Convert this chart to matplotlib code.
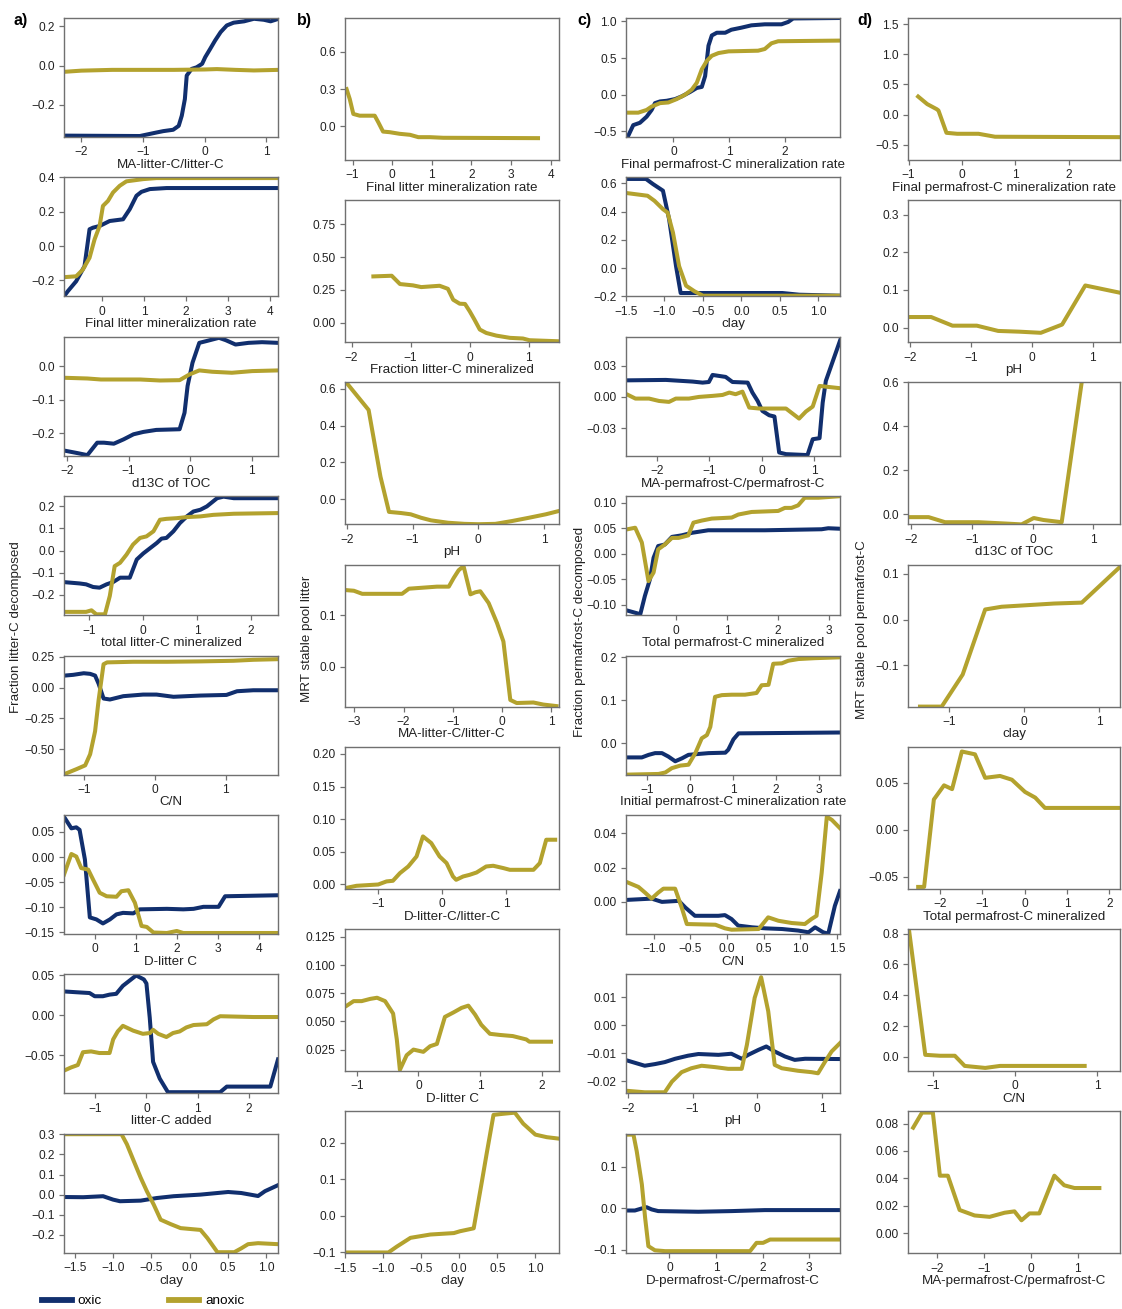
import numpy as np
import matplotlib
matplotlib.use("Agg")
import matplotlib.pyplot as plt
from matplotlib.lines import Line2D

plt.rcParams['font.family'] = ['Liberation Sans', 'DejaVu Sans']

OXIC = '#112f6e'
ANOXIC = '#b3a22e'

# ---- column a: Fraction litter-C decomposed ----
a1_oxic_x = [-2.28, -1.05, -0.78, -0.67, -0.51, -0.42, -0.37, -0.32, -0.29, -0.21, -0.13, -0.04, 0.01, 0.09, 0.17, 0.26, 0.36, 0.47, 0.64, 0.80, 0.96, 1.07, 1.20]
a1_oxic_y = [-0.358, -0.36, -0.342, -0.335, -0.328, -0.308, -0.256, -0.171, -0.051, -0.017, -0.009, 0.009, 0.043, 0.085, 0.128, 0.171, 0.205, 0.219, 0.226, 0.239, 0.234, 0.226, 0.239]
a1_anox_x = [-2.28, -2.0, -1.5, -1.0, -0.5, 0.0, 0.2, 0.5, 0.8, 1.2]
a1_anox_y = [-0.032, -0.026, -0.022, -0.022, -0.022, -0.02, -0.018, -0.022, -0.025, -0.022]

a2_oxic_x = [-0.91, -0.82, -0.62, -0.42, -0.30, -0.22, -0.06, 0.18, 0.50, 0.66, 0.82, 0.94, 1.14, 1.54, 4.2]
a2_oxic_y = [-0.293, -0.263, -0.205, -0.117, 0.098, 0.107, 0.117, 0.146, 0.156, 0.215, 0.293, 0.316, 0.332, 0.338, 0.338]
a2_anox_x = [-0.91, -0.62, -0.46, -0.30, -0.18, -0.06, 0.02, 0.14, 0.26, 0.42, 0.58, 0.98, 1.30, 4.2]
a2_anox_y = [-0.181, -0.176, -0.137, -0.068, 0.039, 0.117, 0.234, 0.263, 0.312, 0.351, 0.377, 0.39, 0.396, 0.396]

a3_oxic_x = [-2.03, -1.83, -1.67, -1.51, -1.40, -1.24, -1.08, -0.92, -0.76, -0.55, -0.17, -0.09, -0.04, 0.04, 0.15, 0.26, 0.47, 0.58, 0.74, 0.95, 1.17, 1.43]
a3_oxic_y = [-0.252, -0.259, -0.265, -0.228, -0.228, -0.231, -0.218, -0.203, -0.196, -0.190, -0.188, -0.139, -0.059, 0.010, 0.069, 0.074, 0.084, 0.077, 0.064, 0.069, 0.071, 0.069]
a3_anox_x = [-2.03, -1.67, -1.45, -0.81, -0.49, -0.17, -0.01, 0.15, 0.36, 0.68, 1.01, 1.43]
a3_anox_y = [-0.035, -0.037, -0.040, -0.040, -0.043, -0.042, -0.025, -0.013, -0.017, -0.020, -0.015, -0.013]

a4_oxic_x = [-1.47, -1.18, -1.06, -0.93, -0.81, -0.68, -0.56, -0.43, -0.25, -0.12, 0.0, 0.09, 0.25, 0.34, 0.43, 0.56, 0.68, 0.81, 0.93, 1.06, 1.18, 1.37, 1.49, 1.68, 2.5]
a4_oxic_y = [-0.142, -0.148, -0.152, -0.164, -0.167, -0.152, -0.142, -0.122, -0.122, -0.040, -0.013, 0.004, 0.034, 0.054, 0.057, 0.087, 0.124, 0.154, 0.176, 0.184, 0.199, 0.236, 0.243, 0.236, 0.236]
a4_anox_x = [-1.47, -1.06, -0.96, -0.87, -0.71, -0.62, -0.53, -0.43, -0.31, -0.19, -0.06, 0.06, 0.19, 0.31, 0.43, 0.62, 0.81, 1.06, 1.30, 1.68, 2.5]
a4_anox_y = [-0.276, -0.276, -0.269, -0.287, -0.287, -0.204, -0.070, -0.055, -0.018, 0.027, 0.057, 0.064, 0.087, 0.139, 0.143, 0.146, 0.151, 0.154, 0.161, 0.166, 0.169]

a5_oxic_x = [-1.28, -1.16, -1.01, -0.92, -0.85, -0.80, -0.73, -0.64, -0.45, -0.17, 0.02, 0.26, 0.64, 1.01, 1.16, 1.39, 1.74]
a5_oxic_y = [0.098, 0.104, 0.117, 0.112, 0.098, 0.032, -0.088, -0.096, -0.069, -0.056, -0.056, -0.074, -0.064, -0.059, -0.029, -0.021, -0.021]
a5_anox_x = [-1.28, -1.11, -0.99, -0.92, -0.85, -0.80, -0.73, -0.68, -0.31, 0.17, 0.64, 1.11, 1.39, 1.74]
a5_anox_y = [-0.70, -0.66, -0.63, -0.54, -0.354, -0.101, 0.19, 0.205, 0.21, 0.21, 0.213, 0.218, 0.226, 0.231]

a6_oxic_x = [-0.75, -0.57, -0.45, -0.37, -0.24, -0.12, 0.04, 0.20, 0.37, 0.53, 0.69, 0.94, 1.10, 1.76, 2.16, 2.41, 2.65, 3.02, 3.18, 4.47]
a6_oxic_y = [0.080, 0.057, 0.059, 0.054, -0.005, -0.120, -0.124, -0.132, -0.124, -0.114, -0.111, -0.112, -0.104, -0.103, -0.104, -0.103, -0.099, -0.099, -0.078, -0.076]
a6_anox_x = [-0.75, -0.65, -0.57, -0.45, -0.33, -0.16, -0.04, 0.12, 0.29, 0.53, 0.65, 0.82, 0.98, 1.14, 1.27, 1.43, 1.76, 2.0, 2.16, 4.47]
a6_anox_y = [-0.035, -0.012, 0.006, 0.001, -0.022, -0.025, -0.045, -0.071, -0.078, -0.079, -0.068, -0.066, -0.091, -0.137, -0.139, -0.150, -0.151, -0.147, -0.151, -0.151]

a7_oxic_x = [-1.61, -1.37, -1.11, -1.01, -0.85, -0.72, -0.59, -0.46, -0.3, -0.2, -0.05, 0.0, 0.065, 0.13, 0.26, 0.42, 1.44, 1.57, 2.42, 2.57]
a7_oxic_y = [0.030, 0.029, 0.028, 0.024, 0.024, 0.026, 0.027, 0.037, 0.045, 0.05, 0.045, 0.04, -0.003, -0.058, -0.079, -0.096, -0.096, -0.089, -0.089, -0.055]
a7_anox_x = [-1.61, -1.47, -1.34, -1.24, -1.08, -0.92, -0.72, -0.65, -0.56, -0.46, -0.26, -0.07, 0.07, 0.13, 0.23, 0.39, 0.52, 0.65, 0.78, 0.92, 1.18, 1.31, 1.44, 2.09, 2.57]
a7_anox_y = [-0.069, -0.065, -0.062, -0.046, -0.045, -0.047, -0.047, -0.030, -0.020, -0.013, -0.019, -0.023, -0.022, -0.018, -0.023, -0.027, -0.022, -0.020, -0.015, -0.012, -0.011, -0.005, -0.001, -0.002, -0.002]

a8_oxic_x = [-1.64, -1.39, -1.13, -1.0, -0.91, -0.64, -0.43, -0.21, 0.14, 0.50, 0.67, 0.89, 0.98, 1.15]
a8_oxic_y = [-0.012, -0.013, -0.008, -0.025, -0.033, -0.030, -0.017, -0.008, 0.0, 0.013, 0.008, -0.007, 0.017, 0.047]
a8_anox_x = [-1.64, -1.17, -0.89, -0.82, -0.73, -0.64, -0.56, -0.47, -0.38, -0.25, -0.12, 0.14, 0.23, 0.36, 0.58, 0.67, 0.76, 0.89, 1.15]
a8_anox_y = [0.301, 0.301, 0.301, 0.251, 0.167, 0.084, 0.017, -0.050, -0.125, -0.147, -0.167, -0.176, -0.217, -0.287, -0.287, -0.268, -0.247, -0.242, -0.247]

# ---- column b: MRT stable pool litter (anoxic only) ----
b1_anox_x = [-1.15, -1.07, -0.98, -0.82, -0.44, -0.35, -0.23, -0.06, 0.19, 0.45, 0.66, 0.95, 1.29, 3.68]
b1_anox_y = [0.299, 0.219, 0.099, 0.085, 0.085, 0.032, -0.043, -0.048, -0.061, -0.069, -0.088, -0.088, -0.093, -0.096]

b2_anox_x = [-1.63, -1.32, -1.18, -0.96, -0.82, -0.51, -0.37, -0.28, -0.17, -0.08, 0.0, 0.08, 0.17, 0.28, 0.45, 0.68, 0.90, 1.01, 1.51]
b2_anox_y = [0.353, 0.358, 0.295, 0.285, 0.272, 0.282, 0.259, 0.176, 0.146, 0.144, 0.088, 0.025, -0.050, -0.076, -0.096, -0.113, -0.118, -0.131, -0.139]

b3_anox_x = [-2.0, -1.67, -1.59, -1.49, -1.36, -1.18, -1.03, -0.87, -0.72, -0.46, -0.21, 0.0, 0.26, 0.51, 0.77, 1.03, 1.23]
b3_anox_y = [0.63, 0.485, 0.324, 0.123, -0.069, -0.075, -0.082, -0.101, -0.115, -0.128, -0.134, -0.136, -0.134, -0.119, -0.101, -0.082, -0.064]

b4_anox_x = [-3.14, -3.01, -2.84, -2.03, -1.89, -1.32, -1.08, -0.98, -0.88, -0.78, -0.64, -0.54, -0.44, -0.27, -0.10, 0.03, 0.17, 0.30, 0.64, 0.84, 1.11]
b4_anox_y = [0.149, 0.148, 0.142, 0.142, 0.152, 0.156, 0.156, 0.173, 0.188, 0.196, 0.141, 0.145, 0.147, 0.124, 0.085, 0.049, -0.065, -0.071, -0.070, -0.074, -0.077]

b5_anox_x = [-1.52, -1.34, -1.0, -0.87, -0.77, -0.66, -0.53, -0.40, -0.30, -0.17, -0.04, 0.07, 0.17, 0.22, 0.33, 0.43, 0.54, 0.69, 0.80, 0.96, 1.06, 1.43, 1.53, 1.63, 1.77]
b5_anox_y = [-0.0056, -0.002, 0.0, 0.0047, 0.0057, 0.0174, 0.0276, 0.043, 0.0737, 0.0635, 0.043, 0.0328, 0.0123, 0.0072, 0.0123, 0.0148, 0.0184, 0.0276, 0.0287, 0.0251, 0.0225, 0.0225, 0.0328, 0.0686, 0.0686]

b6_anox_x = [-1.16, -1.05, -0.92, -0.78, -0.67, -0.54, -0.41, -0.35, -0.30, -0.19, -0.08, 0.08, 0.19, 0.30, 0.43, 0.57, 0.70, 0.81, 0.92, 1.02, 1.16, 1.32, 1.53, 1.75, 1.80, 2.15]
b6_anox_y = [0.064, 0.068, 0.068, 0.070, 0.071, 0.068, 0.057, 0.034, 0.007, 0.020, 0.025, 0.023, 0.028, 0.030, 0.054, 0.058, 0.062, 0.064, 0.056, 0.047, 0.039, 0.038, 0.037, 0.034, 0.032, 0.032]

b7_anox_x = [-1.49, -0.93, -0.82, -0.64, -0.38, -0.07, 0.01, 0.19, 0.30, 0.36, 0.45, 0.58, 0.73, 0.84, 1.0, 1.15, 1.31]
b7_anox_y = [-0.100, -0.100, -0.084, -0.060, -0.051, -0.047, -0.042, -0.034, 0.097, 0.170, 0.276, 0.279, 0.282, 0.252, 0.222, 0.215, 0.211]

# ---- column c: Fraction permafrost-C decomposed ----
c1_oxic_x = [-0.82, -0.72, -0.60, -0.48, -0.39, -0.33, -0.24, -0.12, 0.03, 0.15, 0.30, 0.42, 0.51, 0.57, 0.63, 0.69, 0.78, 0.93, 1.04, 1.22, 1.40, 1.64, 1.94, 2.06, 2.15, 2.99]
c1_oxic_y = [-0.577, -0.415, -0.383, -0.300, -0.208, -0.115, -0.092, -0.083, -0.060, -0.023, 0.037, 0.092, 0.106, 0.254, 0.669, 0.808, 0.845, 0.845, 0.886, 0.914, 0.946, 0.960, 0.960, 0.992, 1.04, 1.046]
c1_anox_x = [-0.85, -0.63, -0.48, -0.39, -0.24, -0.09, 0.06, 0.21, 0.33, 0.42, 0.51, 0.60, 0.69, 0.81, 0.99, 1.52, 1.64, 1.76, 1.88, 2.99]
c1_anox_y = [-0.245, -0.245, -0.208, -0.162, -0.115, -0.106, -0.060, 0.0, 0.069, 0.162, 0.346, 0.461, 0.531, 0.568, 0.591, 0.600, 0.623, 0.701, 0.729, 0.738]

c2_oxic_x = [-1.49, -1.24, -1.15, -1.02, -0.94, -0.85, -0.79, -0.55, 0.53, 0.75, 1.28]
c2_oxic_y = [0.632, 0.632, 0.596, 0.549, 0.347, 0.014, -0.176, -0.176, -0.176, -0.188, -0.195]
c2_anox_x = [-1.49, -1.22, -1.13, -1.02, -0.96, -0.89, -0.81, -0.72, -0.61, -0.50, 1.28]
c2_anox_y = [0.532, 0.513, 0.477, 0.418, 0.394, 0.252, 0.014, -0.124, -0.164, -0.195, -0.195]

c3_oxic_x = [-2.55, -1.83, -1.32, -1.13, -1.01, -0.94, -0.69, -0.56, -0.27, -0.18, -0.08, 0.01, 0.14, 0.24, 0.33, 0.46, 0.87, 0.97, 1.10, 1.16, 1.22, 1.32, 1.41, 1.51]
c3_oxic_y = [0.016, 0.0164, 0.0148, 0.0138, 0.0144, 0.0212, 0.0193, 0.0144, 0.0138, 0.0042, -0.0039, -0.0135, -0.0177, -0.0189, -0.0536, -0.0552, -0.0561, -0.0408, -0.0398, -0.0055, 0.0154, 0.0298, 0.0427, 0.0571]
c3_anox_x = [-2.55, -2.41, -2.15, -1.96, -1.77, -1.64, -1.39, -1.20, -0.94, -0.75, -0.62, -0.50, -0.37, -0.24, -0.05, 0.46, 0.71, 0.84, 0.97, 1.10, 1.22, 1.51]
c3_anox_y = [0.0019, -0.0016, -0.0016, -0.0039, -0.0048, -0.0016, -0.0016, 0.0, 0.001, 0.0019, 0.0042, 0.0026, 0.0051, -0.0103, -0.0112, -0.0112, -0.0209, -0.0141, -0.0093, 0.0106, 0.0099, 0.0083]

c4_oxic_x = [-0.95, -0.70, -0.61, -0.51, -0.44, -0.35, -0.22, -0.08, 0.11, 0.31, 0.63, 1.74, 2.85, 2.98, 3.21]
c4_oxic_y = [-0.112, -0.119, -0.083, -0.050, -0.008, 0.015, 0.018, 0.033, 0.036, 0.041, 0.046, 0.046, 0.048, 0.050, 0.049]
c4_anox_x = [-0.95, -0.80, -0.67, -0.54, -0.44, -0.35, -0.22, -0.08, 0.05, 0.24, 0.34, 0.50, 0.70, 1.09, 1.22, 1.48, 2.0, 2.13, 2.26, 2.39, 2.52, 2.79, 3.21]
c4_anox_y = [0.048, 0.051, 0.022, -0.054, -0.037, 0.0085, 0.018, 0.031, 0.031, 0.036, 0.061, 0.065, 0.069, 0.071, 0.077, 0.082, 0.084, 0.090, 0.090, 0.095, 0.110, 0.110, 0.113]

c5_oxic_x = [-1.45, -1.13, -0.97, -0.82, -0.66, -0.51, -0.35, -0.19, -0.04, 0.19, 0.43, 0.82, 0.89, 1.01, 1.13, 3.5]
c5_oxic_y = [-0.033, -0.033, -0.027, -0.023, -0.023, -0.031, -0.042, -0.035, -0.027, -0.025, -0.023, -0.022, -0.015, 0.009, 0.023, 0.025]
c5_anox_x = [-1.45, -0.74, -0.58, -0.43, -0.23, -0.04, 0.12, 0.27, 0.39, 0.47, 0.58, 0.74, 0.97, 1.28, 1.55, 1.67, 1.83, 1.94, 2.14, 2.29, 2.53, 2.91, 3.5]
c5_anox_y = [-0.073, -0.0715, -0.068, -0.058, -0.052, -0.050, -0.023, 0.0115, 0.019, 0.038, 0.108, 0.112, 0.113, 0.113, 0.117, 0.135, 0.136, 0.185, 0.186, 0.192, 0.196, 0.198, 0.2]

c6_oxic_x = [-1.35, -1.03, -0.89, -0.66, -0.57, -0.44, -0.12, -0.03, 0.06, 0.15, 0.34, 0.52, 0.75, 0.97, 1.11, 1.2, 1.31, 1.38, 1.47, 1.54]
c6_oxic_y = [0.0012, 0.0019, 0.0, 0.0006, -0.0033, -0.0081, -0.0081, -0.0077, -0.0100, -0.0138, -0.0148, -0.0154, -0.0158, -0.0167, -0.0177, -0.0148, -0.0177, -0.0185, -0.0023, 0.0063]
c6_anox_x = [-1.35, -1.21, -1.12, -1.03, -0.94, -0.87, -0.71, -0.62, -0.55, -0.16, -0.03, 0.06, 0.43, 0.56, 0.70, 0.88, 1.06, 1.15, 1.22, 1.29, 1.36, 1.43, 1.54]
c6_anox_y = [0.0112, 0.0087, 0.0054, 0.0019, 0.0054, 0.0077, 0.0077, -0.0033, -0.0129, -0.0133, -0.0154, -0.0162, -0.0158, -0.0090, -0.0110, -0.0123, -0.0129, -0.0100, -0.0081, 0.0169, 0.0496, 0.0477, 0.0429]

c7_oxic_x = [-2.0, -1.74, -1.58, -1.43, -1.27, -1.07, -0.91, -0.60, -0.40, -0.24, -0.14, 0.02, 0.14, 0.27, 0.43, 0.58, 0.74, 1.28]
c7_oxic_y = [-0.0127, -0.0145, -0.0139, -0.0132, -0.0120, -0.0109, -0.0103, -0.0106, -0.0102, -0.0120, -0.0106, -0.0088, -0.0076, -0.0094, -0.0112, -0.0124, -0.0120, -0.0121]
c7_anox_x = [-2.0, -1.74, -1.43, -1.32, -1.17, -1.02, -0.86, -0.65, -0.45, -0.24, -0.16, -0.04, 0.06, 0.17, 0.27, 0.38, 0.63, 0.84, 0.94, 1.05, 1.15, 1.28]
c7_anox_y = [-0.0235, -0.024, -0.024, -0.0202, -0.0168, -0.0154, -0.0145, -0.0150, -0.0156, -0.0156, -0.0070, 0.0098, 0.0172, 0.0050, -0.0142, -0.0154, -0.0163, -0.0168, -0.0172, -0.0130, -0.0094, -0.0064]

c8_oxic_x = [-0.89, -0.74, -0.59, -0.49, -0.38, -0.24, 0.62, 1.34, 2.05, 3.66]
c8_oxic_y = [-0.005, -0.005, 0.0, 0.003, -0.0024, -0.0064, -0.008, -0.0064, -0.004, -0.004]
c8_anox_x = [-0.89, -0.77, -0.70, -0.59, -0.52, -0.45, -0.31, -0.09, 1.73, 1.87, 2.01, 2.16, 3.66]
c8_anox_y = [0.178, 0.178, 0.138, 0.058, -0.0225, -0.091, -0.101, -0.103, -0.103, -0.083, -0.083, -0.075, -0.075]

# ---- column d: MRT stable pool permafrost-C (anoxic only) ----
d1_anox_x = [-0.82, -0.65, -0.47, -0.44, -0.29, -0.09, 0.31, 0.62, 2.96]
d1_anox_y = [0.30, 0.175, 0.09, 0.07, -0.30, -0.316, -0.316, -0.365, -0.372]

d2_anox_x = [-2.0, -1.65, -1.3, -0.9, -0.55, -0.2, 0.15, 0.5, 0.88, 1.44]
d2_anox_y = [0.028, 0.028, 0.005, 0.005, -0.009, -0.011, -0.014, 0.008, 0.112, 0.093]

d3_anox_x = [-2.03, -1.71, -1.44, -0.89, -0.45, -0.18, 0.02, 0.18, 0.48, 0.83]
d3_anox_y = [-0.012, -0.012, -0.035, -0.035, -0.041, -0.045, -0.016, -0.025, -0.035, 0.64]

d4_anox_x = [-1.39, -1.10, -0.82, -0.52, -0.3, 0.0, 0.4, 0.77, 1.28]
d4_anox_y = [-0.19, -0.19, -0.12, 0.022, 0.028, 0.031, 0.035, 0.037, 0.115]

d5_anox_x = [-2.51, -2.37, -2.14, -1.90, -1.71, -1.48, -1.17, -0.93, -0.58, -0.30, 0.01, 0.25, 0.48, 2.25]
d5_anox_y = [-0.061, -0.061, 0.032, 0.047, 0.043, 0.083, 0.080, 0.055, 0.057, 0.053, 0.040, 0.034, 0.023, 0.023]

d6_anox_x = [-1.29, -1.09, -0.91, -0.73, -0.61, -0.36, -0.18, 0.85]
d6_anox_y = [0.833, 0.013, 0.007, 0.007, -0.059, -0.072, -0.059, -0.059]

d7_anox_x = [-2.51, -2.32, -2.09, -1.94, -1.77, -1.52, -1.20, -0.88, -0.56, -0.35, -0.20, -0.03, 0.18, 0.50, 0.71, 0.93, 1.46]
d7_anox_y = [0.077, 0.088, 0.088, 0.042, 0.042, 0.017, 0.013, 0.012, 0.015, 0.016, 0.0095, 0.0145, 0.0145, 0.042, 0.035, 0.033, 0.033]


col_a = [
    dict(xlabel='MA-litter-C/litter-C', xlim=(-2.28, 1.19), ylim=(-0.365, 0.243), xt=[-2, -1, 0, 1], yt=[-0.2, 0.0, 0.2],
         ox=(a1_oxic_x, a1_oxic_y), an=(a1_anox_x, a1_anox_y)),
    dict(xlabel='Final litter mineralization rate', xlim=(-0.91, 4.2), ylim=(-0.293, 0.40), xt=[0, 1, 2, 3, 4], yt=[-0.2, 0.0, 0.2, 0.4],
         ox=(a2_oxic_x, a2_oxic_y), an=(a2_anox_x, a2_anox_y)),
    dict(xlabel='d13C of TOC', xlim=(-2.05, 1.43), ylim=(-0.267, 0.087), xt=[-2, -1, 0, 1], yt=[-0.2, -0.1, 0.0],
         ox=(a3_oxic_x, a3_oxic_y), an=(a3_anox_x, a3_anox_y)),
    dict(xlabel='total litter-C mineralized', xlim=(-1.47, 2.5), ylim=(-0.291, 0.245), xt=[-1, 0, 1, 2], yt=[-0.2, -0.1, 0.0, 0.1, 0.2],
         ox=(a4_oxic_x, a4_oxic_y), an=(a4_anox_x, a4_anox_y)),
    dict(xlabel='C/N', xlim=(-1.29, 1.74), ylim=(-0.705, 0.26), xt=[-1, 0, 1], yt=[-0.5, -0.25, 0.0, 0.25],
         ox=(a5_oxic_x, a5_oxic_y), an=(a5_anox_x, a5_anox_y)),
    dict(xlabel='D-litter C', xlim=(-0.75, 4.47), ylim=(-0.153, 0.0835), xt=[0, 1, 2, 3, 4], yt=[-0.15, -0.10, -0.05, 0.0, 0.05],
         ox=(a6_oxic_x, a6_oxic_y), an=(a6_anox_x, a6_anox_y)),
    dict(xlabel='litter-C added', xlim=(-1.61, 2.57), ylim=(-0.0975, 0.0513), xt=[-1, 0, 1, 2], yt=[-0.05, 0.0, 0.05],
         ox=(a7_oxic_x, a7_oxic_y), an=(a7_anox_x, a7_anox_y)),
    dict(xlabel='clay', xlim=(-1.64, 1.15), ylim=(-0.29, 0.303), xt=[-1.5, -1.0, -0.5, 0.0, 0.5, 1.0], yt=[-0.2, -0.1, 0.0, 0.1, 0.2, 0.3],
         ox=(a8_oxic_x, a8_oxic_y), an=(a8_anox_x, a8_anox_y)),
]

col_b = [
    dict(xlabel='Final litter mineralization rate', xlim=(-1.19, 4.21), ylim=(-0.272, 0.872), xt=[-1, 0, 1, 2, 3, 4], yt=[0.0, 0.3, 0.6],
         an=(b1_anox_x, b1_anox_y)),
    dict(xlabel='Fraction litter-C mineralized', xlim=(-2.11, 1.51), ylim=(-0.146, 0.931), xt=[-2, -1, 0, 1], yt=[0.0, 0.25, 0.5, 0.75],
         an=(b2_anox_x, b2_anox_y)),
    dict(xlabel='pH', xlim=(-2.03, 1.23), ylim=(-0.137, 0.635), xt=[-2, -1, 0, 1], yt=[0.0, 0.2, 0.4, 0.6],
         an=(b3_anox_x, b3_anox_y)),
    dict(xlabel='MA-litter-C/litter-C', xlim=(-3.19, 1.16), ylim=(-0.078, 0.199), xt=[-3, -2, -1, 0, 1], yt=[0.0, 0.1],
         an=(b4_anox_x, b4_anox_y)),
    dict(xlabel='D-litter-C/litter-C', xlim=(-1.52, 1.83), ylim=(-0.0066, 0.211), xt=[-1, 0, 1], yt=[0.0, 0.05, 0.10, 0.15, 0.20],
         an=(b5_anox_x, b5_anox_y)),
    dict(xlabel='D-litter C', xlim=(-1.19, 2.28), ylim=(0.006, 0.132), xt=[-1, 0, 1, 2], yt=[0.025, 0.05, 0.075, 0.1, 0.125],
         an=(b6_anox_x, b6_anox_y)),
    dict(xlabel='clay', xlim=(-1.5, 1.31), ylim=(-0.102, 0.286), xt=[-1.5, -1.0, -0.5, 0.0, 0.5, 1.0], yt=[-0.1, 0.0, 0.1, 0.2],
         an=(b7_anox_x, b7_anox_y)),
]

col_c = [
    dict(xlabel='Final permafrost-C mineralization rate', xlim=(-0.85, 2.99), ylim=(-0.577, 1.046), xt=[0, 1, 2], yt=[-0.5, 0.0, 0.5, 1.0],
         ox=(c1_oxic_x, c1_oxic_y), an=(c1_anox_x, c1_anox_y)),
    dict(xlabel='clay', xlim=(-1.5, 1.28), ylim=(-0.2, 0.643), xt=[-1.5, -1.0, -0.5, 0.0, 0.5, 1.0], yt=[-0.2, 0.0, 0.2, 0.4, 0.6],
         ox=(c2_oxic_x, c2_oxic_y), an=(c2_anox_x, c2_anox_y)),
    dict(xlabel='MA-permafrost-C/permafrost-C', xlim=(-2.59, 1.49), ylim=(-0.0568, 0.058), xt=[-2, -1, 0, 1], yt=[-0.03, 0.0, 0.03],
         ox=(c3_oxic_x, c3_oxic_y), an=(c3_anox_x, c3_anox_y)),
    dict(xlabel='Total permafrost-C mineralized', xlim=(-0.98, 3.21), ylim=(-0.121, 0.113), xt=[0, 1, 2, 3], yt=[-0.10, -0.05, 0.0, 0.05, 0.10],
         ox=(c4_oxic_x, c4_oxic_y), an=(c4_anox_x, c4_anox_y)),
    dict(xlabel='Initial permafrost-C mineralization rate', xlim=(-1.5, 3.5), ylim=(-0.073, 0.204), xt=[-1, 0, 1, 2, 3], yt=[0.0, 0.1, 0.2],
         ox=(c5_oxic_x, c5_oxic_y), an=(c5_anox_x, c5_anox_y)),
    dict(xlabel='C/N', xlim=(-1.38, 1.54), ylim=(-0.0187, 0.0506), xt=[-1.0, -0.5, 0.0, 0.5, 1.0, 1.5], yt=[0.0, 0.02, 0.04],
         ox=(c6_oxic_x, c6_oxic_y), an=(c6_anox_x, c6_anox_y)),
    dict(xlabel='pH', xlim=(-2.03, 1.28), ylim=(-0.0244, 0.0182), xt=[-2, -1, 0, 1], yt=[-0.02, -0.01, 0.0, 0.01],
         ox=(c7_oxic_x, c7_oxic_y), an=(c7_anox_x, c7_anox_y)),
    dict(xlabel='D-permafrost-C/permafrost-C', xlim=(-0.93, 3.66), ylim=(-0.107, 0.18), xt=[0, 1, 2, 3], yt=[-0.1, 0.0, 0.1],
         ox=(c8_oxic_x, c8_oxic_y), an=(c8_anox_x, c8_anox_y)),
]

col_d = [
    dict(xlabel='Final permafrost-C mineralization rate', xlim=(-1.01, 2.96), ylim=(-0.75, 1.6), xt=[-1, 0, 1, 2], yt=[-0.5, 0.0, 0.5, 1.0, 1.5],
         an=(d1_anox_x, d1_anox_y), label_x=0.455),
    dict(xlabel='pH', xlim=(-2.03, 1.45), ylim=(-0.039, 0.339), xt=[-2, -1, 0, 1], yt=[0.0, 0.1, 0.2, 0.3],
         an=(d2_anox_x, d2_anox_y)),
    dict(xlabel='d13C of TOC', xlim=(-2.05, 1.44), ylim=(-0.045, 0.6), xt=[-2, -1, 0, 1], yt=[0.0, 0.2, 0.4, 0.6],
         an=(d3_anox_x, d3_anox_y)),
    dict(xlabel='clay', xlim=(-1.55, 1.28), ylim=(-0.19, 0.12), xt=[-1, 0, 1], yt=[-0.1, 0.0, 0.1],
         an=(d4_anox_x, d4_anox_y)),
    dict(xlabel='Total permafrost-C mineralized', xlim=(-2.75, 2.25), ylim=(-0.063, 0.088), xt=[-2, -1, 0, 1, 2], yt=[-0.05, 0.0, 0.05],
         an=(d5_anox_x, d5_anox_y)),
    dict(xlabel='C/N', xlim=(-1.3, 1.28), ylim=(-0.092, 0.83), xt=[-1, 0, 1], yt=[0.0, 0.2, 0.4, 0.6, 0.8],
         an=(d6_anox_x, d6_anox_y)),
    dict(xlabel='MA-permafrost-C/permafrost-C', xlim=(-2.62, 1.9), ylim=(-0.0145, 0.089), xt=[-2, -1, 0, 1], yt=[0.0, 0.02, 0.04, 0.06, 0.08],
         an=(d7_anox_x, d7_anox_y)),
]

W, H = 1122, 1309
fig = plt.figure(figsize=(W / 100, H / 100), dpi=100)

SPINE = '#707070'
TEXT = '#222222'


def px_axes(left, top, width, height):
    return fig.add_axes([left / W, 1 - (top + height) / H, width / W, height / H])


def draw_panel(ax, p):
    if 'ox' in p:
        ax.plot(p['ox'][0], p['ox'][1], color=OXIC, lw=2.9, solid_joinstyle='round')
    ax.plot(p['an'][0], p['an'][1], color=ANOXIC, lw=2.9, solid_joinstyle='round')
    ax.set_xlim(*p['xlim'])
    ax.set_ylim(*p['ylim'])
    ax.set_xticks(p['xt'])
    ax.set_yticks(p['yt'])
    for s in ax.spines.values():
        s.set_color(SPINE)
        s.set_linewidth(1.0)
    ax.tick_params(direction='out', length=3.5, width=0.9, color=SPINE, labelsize=8.6,
                   labelcolor=TEXT, pad=3.2)
    lab = ax.set_xlabel(p['xlabel'], fontsize=9.6, color=TEXT, labelpad=0.3)
    if 'label_x' in p:
        # keep the long label inside the figure edge
        lab.set_x(p['label_x'])


cols = [(64, 214, col_a, 8), (345, 214, col_b, 7), (626, 214, col_c, 8), (908, 212, col_d, 7)]
for left, width, panels, n in cols:
    if n == 8:
        tops = [18 + i * 159.4 for i in range(8)]
        hgt = 119
    else:
        tops = [18 + i * 182.2 for i in range(7)]
        hgt = 142
    for top, p in zip(tops, panels):
        ax = px_axes(left, top, width, hgt)
        draw_panel(ax, p)

# panel letters
for x, letter in [(13, 'a)'), (297, 'b)'), (577, 'c)'), (857, 'd)')]:
    fig.text(x / W, 1 - 20 / H, letter, fontsize=11.5, fontweight='bold', va='center', ha='left')

# column y labels
for x, yc, lab in [(16, 627, 'Fraction litter-C decomposed'), (307, 639, 'MRT stable pool litter'),
                   (580, 632, 'Fraction permafrost-C decomposed'), (862, 630, 'MRT stable pool permafrost-C')]:
    fig.text(x / W, 1 - yc / H, lab, rotation=90, fontsize=9.6, color=TEXT, va='center', ha='center')

handles = [Line2D([], [], color=OXIC, lw=4.2), Line2D([], [], color=ANOXIC, lw=4.2)]
fig.legend(handles, ['oxic', 'anoxic'], loc='center left', bbox_to_anchor=(42 / W, 1 - 1301 / H),
           ncol=2, frameon=False, fontsize=9.7, handlelength=2.2, handletextpad=0.45, columnspacing=5.0,
           borderaxespad=0, borderpad=0)

fig.savefig('out.png', dpi=100)
